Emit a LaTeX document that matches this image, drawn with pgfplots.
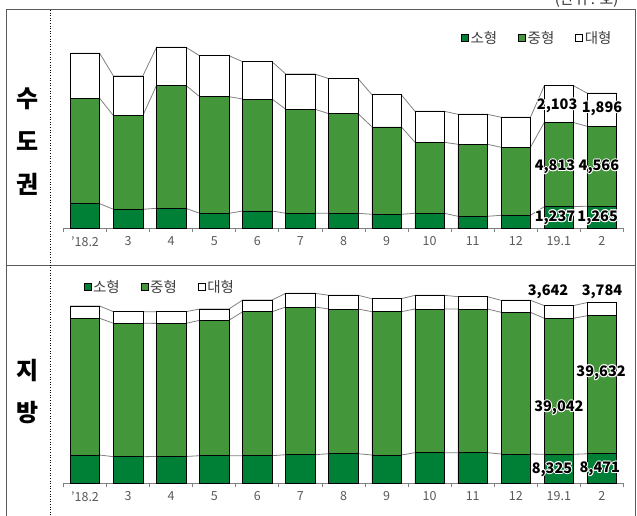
\documentclass[border=0pt]{standalone}
\usepackage{pgfplots}
\pgfplotsset{compat=1.18}
\usepackage{pgfplotstable}
\usepackage{fontspec}
\setmainfont{Noto Sans CJK KR}
\definecolor{sm}{RGB}{0,128,55}
\definecolor{md}{RGB}{67,150,58}
\definecolor{tk}{RGB}{89,89,89}
\definecolor{sl}{RGB}{128,128,128}
\definecolor{fr}{RGB}{90,90,90}

\pgfplotstableread{
x s m l
0 1407 6029 2574
1 1087 5354 2271
2 1144 7036 2174
3 858 6670 2345
4 990 6406 2134
5 858 5949 2019
6 858 5697 2002
7 801 5005 1836
8 858 4061 1773
9 686 4118 1716
10 744 3890 1716
11 1237 4813 2103
12 1265 4566 1896
}\capital

\pgfplotstableread{
x s m l
0 8122 39233 3530
1 7634 38286 3329
2 7700 38200 3350
3 7921 38860 3243
4 7921 41328 3358
5 8208 42390 3932
6 8495 41529 3932
7 8122 41127 3731
8 8782 41242 3932
9 8782 41242 3530
10 8409 40668 3444
11 8325 39042 3642
12 8471 39632 3784
}\region

\pgfplotsset{
  geom/.style={scale only axis, width=560pt, xmin=-0.5, xmax=12.5, ymin=0},
  bars/.style={geom, ybar stacked, bar width=0.685,
    axis y line=none, axis x line=bottom,
    x axis line style={-, draw=sl, line width=0.8pt},
    xtick={0,...,12},
    xticklabels={'18.2,3,4,5,6,7,8,9,10,11,12,19.1,2},
    major tick length=0pt,
    minor xtick={-0.5,0.5,...,12.5},
    minor tick length=4pt, tick align=outside,
    minor tick style={draw=sl, line width=0.8pt},
    xticklabel style={font=\fontsize{12.5}{12.5}\selectfont, text=tk, yshift=-5pt},
    legend columns=3,
    legend style={draw=none, fill=none, font=\fontsize{14.5}{14.5}\selectfont, text=black!75,
      /tikz/every even column/.append style={column sep=19pt},
      nodes={inner xsep=2pt, inner ysep=1pt}},
  },
  sq/.style={legend image code/.code={\draw[##1, line width=0.5pt] (0pt,-3.5pt) rectangle (7pt,3.5pt);}},
}
\tikzset{lbl/.style={font=\bfseries\fontsize{14.5}{14.5}\selectfont, inner sep=0pt}}

\begin{document}
\begin{tikzpicture}[x=1pt,y=1pt]
\useasboundingbox (0,0) rectangle (637,515);
\begin{scope}
\clip (0,0) rectangle (637,515);
\draw[fr, line width=1pt] (6,-5) -- (6,505) -- (635,505) -- (635,-5);
\draw[fr, line width=1pt] (6,250) -- (635,250);
\draw[black, dotted, line width=0.6pt] (50,505) -- (50,-5);
\node[anchor=base east, font=\fontsize{15}{15}\selectfont, text=black!80] at (622,510) {(단위 : 호)};
\end{scope}
\node[font=\bfseries\fontsize{24}{24}\selectfont] at (28,416) {수};
\node[font=\bfseries\fontsize{24}{24}\selectfont] at (28,374) {도};
\node[font=\bfseries\fontsize{24}{24}\selectfont] at (28,331) {권};
\node[font=\bfseries\fontsize{24}{24}\selectfont] at (28,144) {지};
\node[font=\bfseries\fontsize{24}{24}\selectfont] at (28,102) {방};

% ---------- top: series lines ----------
\begin{axis}[geom, at={(63.5pt,286.7pt)}, anchor=south west, height=188.8pt, ymax=10800, hide axis]
\addplot[sl, line width=0.8pt, no marks] coordinates {(-0.34,1407)(0.34,1407)(0.66,1087)(1.34,1087)(1.66,1144)(2.34,1144)(2.66,858)(3.34,858)(3.66,990)(4.34,990)(4.66,858)(5.34,858)(5.66,858)(6.34,858)(6.66,801)(7.34,801)(7.66,858)(8.34,858)(8.66,686)(9.34,686)(9.66,744)(10.34,744)(10.66,1237)(11.34,1237)(11.66,1265)(12.34,1265)};
\addplot[sl, line width=0.8pt, no marks] coordinates {(-0.34,7436)(0.34,7436)(0.66,6441)(1.34,6441)(1.66,8180)(2.34,8180)(2.66,7528)(3.34,7528)(3.66,7396)(4.34,7396)(4.66,6807)(5.34,6807)(5.66,6555)(6.34,6555)(6.66,5806)(7.34,5806)(7.66,4919)(8.34,4919)(8.66,4804)(9.34,4804)(9.66,4634)(10.34,4634)(10.66,6050)(11.34,6050)(11.66,5831)(12.34,5831)};
\addplot[sl, line width=0.8pt, no marks] coordinates {(-0.34,10010)(0.34,10010)(0.66,8712)(1.34,8712)(1.66,10354)(2.34,10354)(2.66,9873)(3.34,9873)(3.66,9530)(4.34,9530)(4.66,8826)(5.34,8826)(5.66,8557)(6.34,8557)(6.66,7642)(7.34,7642)(7.66,6692)(8.34,6692)(8.66,6520)(9.34,6520)(9.66,6350)(10.34,6350)(10.66,8153)(11.34,8153)(11.66,7727)(12.34,7727)};
\end{axis}

% ---------- top: bars ----------
\begin{axis}[bars, at={(63.5pt,286.7pt)}, anchor=south west, height=188.8pt, ymax=10800,
  legend style={at={(0.988,1.008)}, anchor=east}]
\addplot[fill=sm, draw=black, line width=0.6pt, sq] table[x=x,y=s]{\capital};
\addplot[fill=md, draw=black, line width=0.6pt, sq] table[x=x,y=m]{\capital};
\addplot[fill=white, draw=black, line width=0.6pt, sq] table[x=x,y=l]{\capital};
\legend{소형,중형,대형}
\coordinate (t1) at (axis cs:10.96,6996);
\coordinate (t2) at (axis cs:12.0,6825);
\coordinate (t3) at (axis cs:10.91,3506);
\coordinate (t4) at (axis cs:11.93,3506);
\coordinate (t5) at (axis cs:10.91,600);
\coordinate (t6) at (axis cs:11.9,600);
\end{axis}

% ---------- bottom: series lines ----------
\begin{axis}[geom, at={(63.5pt,31.7pt)}, anchor=south west, height=209.06pt, ymax=60000, hide axis]
\addplot[sl, line width=0.8pt, no marks] coordinates {(-0.34,8122)(0.34,8122)(0.66,7634)(1.34,7634)(1.66,7700)(2.34,7700)(2.66,7921)(3.34,7921)(3.66,7921)(4.34,7921)(4.66,8208)(5.34,8208)(5.66,8495)(6.34,8495)(6.66,8122)(7.34,8122)(7.66,8782)(8.34,8782)(8.66,8782)(9.34,8782)(9.66,8409)(10.34,8409)(10.66,8325)(11.34,8325)(11.66,8471)(12.34,8471)};
\addplot[sl, line width=0.8pt, no marks] coordinates {(-0.34,47355)(0.34,47355)(0.66,45920)(1.34,45920)(1.66,45900)(2.34,45900)(2.66,46781)(3.34,46781)(3.66,49249)(4.34,49249)(4.66,50598)(5.34,50598)(5.66,50024)(6.34,50024)(6.66,49249)(7.34,49249)(7.66,50024)(8.34,50024)(8.66,50024)(9.34,50024)(9.66,49077)(10.34,49077)(10.66,47367)(11.34,47367)(11.66,48103)(12.34,48103)};
\addplot[sl, line width=0.8pt, no marks] coordinates {(-0.34,50885)(0.34,50885)(0.66,49249)(1.34,49249)(1.66,49250)(2.34,49250)(2.66,50024)(3.34,50024)(3.66,52607)(4.34,52607)(4.66,54530)(5.34,54530)(5.66,53956)(6.34,53956)(6.66,52980)(7.34,52980)(7.66,53956)(8.34,53956)(8.66,53554)(9.34,53554)(9.66,52521)(10.34,52521)(10.66,51009)(11.34,51009)(11.66,51887)(12.34,51887)};
\end{axis}

% ---------- bottom: bars ----------
\begin{axis}[bars, at={(63.5pt,31.7pt)}, anchor=south west, height=209.06pt, ymax=60000,
  legend style={at={(0.03,0.938)}, anchor=west}]
\addplot[fill=sm, draw=black, line width=0.6pt, sq] table[x=x,y=s]{\region};
\addplot[fill=md, draw=black, line width=0.6pt, sq] table[x=x,y=m]{\region};
\addplot[fill=white, draw=black, line width=0.6pt, sq] table[x=x,y=l]{\region};
\legend{소형,중형,대형}
\coordinate (b1) at (axis cs:10.75,54903);
\coordinate (b2) at (axis cs:12.0,54903);
\coordinate (b3) at (axis cs:11.0,21611);
\coordinate (b4) at (axis cs:11.98,31742);
\coordinate (b5) at (axis cs:10.84,4018);
\coordinate (b6) at (axis cs:11.95,4104);
\end{axis}

% ---------- data labels with white halo ----------
\foreach \n/\t in {t1/{2,103},t2/{1,896},t3/{4,813},t4/{4,566},t5/{1,237},t6/{1,265},
                   b1/{3,642},b2/{3,784},b3/{39,042},b4/{39,632},b5/{8,325},b6/{8,471}}{
  \foreach \dx/\dy in {1/0,-1/0,0/1,0/-1,0.7/0.7,-0.7/0.7,0.7/-0.7,-0.7/-0.7}{
    \node[lbl,text=white] at ([xshift=\dx pt,yshift=\dy pt]\n) {\t};
  }
  \node[lbl,text=black] at (\n) {\t};
}
\end{tikzpicture}
\end{document}
